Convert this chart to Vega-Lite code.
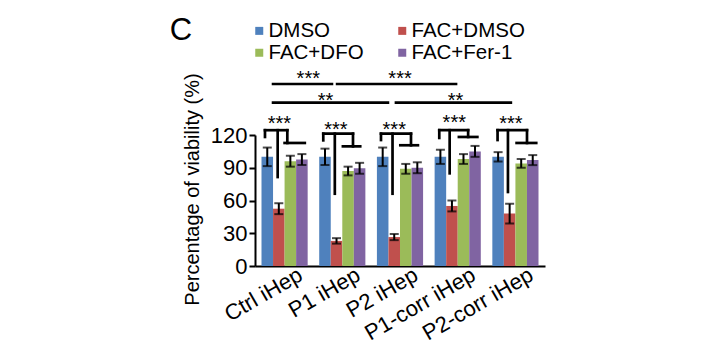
{
  "$schema": "https://vega.github.io/schema/vega-lite/v6.json",
  "width": 290,
  "height": 131,
  "autosize": {"type": "none"},
  "padding": {"left": 255, "top": 135, "right": 181, "bottom": 97},
  "background": "white",
  "config": {"view": {"stroke": null}, "font": "Liberation Sans"},
  "datasets": {
    "bars": [
      {"group": "Ctrl iHep", "series": "DMSO", "value": 100, "lo": 91.5, "hi": 108.5},
      {"group": "Ctrl iHep", "series": "FAC+DMSO", "value": 52.5, "lo": 47.5, "hi": 57.5},
      {"group": "Ctrl iHep", "series": "FAC+DFO", "value": 96, "lo": 91, "hi": 101},
      {"group": "Ctrl iHep", "series": "FAC+Fer-1", "value": 97.5, "lo": 92.5, "hi": 102.5},
      {"group": "P1 iHep", "series": "DMSO", "value": 100, "lo": 92.5, "hi": 107.5},
      {"group": "P1 iHep", "series": "FAC+DMSO", "value": 23, "lo": 20.5, "hi": 25.5},
      {"group": "P1 iHep", "series": "FAC+DFO", "value": 87, "lo": 83, "hi": 91},
      {"group": "P1 iHep", "series": "FAC+Fer-1", "value": 89.5, "lo": 84.5, "hi": 94.5},
      {"group": "P2 iHep", "series": "DMSO", "value": 100, "lo": 91.5, "hi": 108.5},
      {"group": "P2 iHep", "series": "FAC+DMSO", "value": 26.5, "lo": 23.7, "hi": 29.3},
      {"group": "P2 iHep", "series": "FAC+DFO", "value": 89, "lo": 84.5, "hi": 93.5},
      {"group": "P2 iHep", "series": "FAC+Fer-1", "value": 90, "lo": 85, "hi": 95},
      {"group": "P1-corr iHep", "series": "DMSO", "value": 100, "lo": 93.5, "hi": 106.5},
      {"group": "P1-corr iHep", "series": "FAC+DMSO", "value": 55, "lo": 50, "hi": 60},
      {"group": "P1-corr iHep", "series": "FAC+DFO", "value": 98, "lo": 93.5, "hi": 102.5},
      {"group": "P1-corr iHep", "series": "FAC+Fer-1", "value": 105, "lo": 100, "hi": 110},
      {"group": "P2-corr iHep", "series": "DMSO", "value": 100, "lo": 95.7, "hi": 104.3},
      {"group": "P2-corr iHep", "series": "FAC+DMSO", "value": 48, "lo": 39, "hi": 57},
      {"group": "P2-corr iHep", "series": "FAC+DFO", "value": 94, "lo": 90, "hi": 98},
      {"group": "P2-corr iHep", "series": "FAC+Fer-1", "value": 97, "lo": 92.4, "hi": 101.6}
    ],
    "segs": [
      {"pos": -0.34, "pos2": 0.047, "v": 124.4, "v2": 124.4},
      {"pos": -0.34, "pos2": -0.34, "v": 124.4, "v2": 118.2},
      {"pos": -0.12, "pos2": -0.12, "v": 124.4, "v2": 81.5},
      {"pos": 0.047, "pos2": 0.047, "v": 124.4, "v2": 112.7},
      {"pos": 0.0, "pos2": 0.35, "v": 112.7, "v2": 112.7},
      {"pos": 0.67, "pos2": 1.185, "v": 121.2, "v2": 121.2},
      {"pos": 0.67, "pos2": 0.67, "v": 121.2, "v2": 115.1},
      {"pos": 0.87, "pos2": 0.87, "v": 121.2, "v2": 66.2},
      {"pos": 1.185, "pos2": 1.185, "v": 121.2, "v2": 109.6},
      {"pos": 1.01, "pos2": 1.31, "v": 109.6, "v2": 109.6},
      {"pos": 1.67, "pos2": 2.19, "v": 121.2, "v2": 121.2},
      {"pos": 1.67, "pos2": 1.67, "v": 121.2, "v2": 115.4},
      {"pos": 1.87, "pos2": 1.87, "v": 121.2, "v2": 66.2},
      {"pos": 2.19, "pos2": 2.19, "v": 121.2, "v2": 110.6},
      {"pos": 2.005, "pos2": 2.31, "v": 110.6, "v2": 110.6},
      {"pos": 2.68, "pos2": 3.18, "v": 124.4, "v2": 124.4},
      {"pos": 2.68, "pos2": 2.68, "v": 124.4, "v2": 117.3},
      {"pos": 2.86, "pos2": 2.86, "v": 124.4, "v2": 84.9},
      {"pos": 3.18, "pos2": 3.18, "v": 124.4, "v2": 118.2},
      {"pos": 3.02, "pos2": 3.34, "v": 118.2, "v2": 118.2},
      {"pos": 3.69, "pos2": 4.2, "v": 124.4, "v2": 124.4},
      {"pos": 3.69, "pos2": 3.69, "v": 124.4, "v2": 115.4},
      {"pos": 3.87, "pos2": 3.87, "v": 124.4, "v2": 67.8},
      {"pos": 4.2, "pos2": 4.2, "v": 124.4, "v2": 112.7},
      {"pos": 4.02, "pos2": 4.36, "v": 112.7, "v2": 112.7},
      {"pos": -0.2, "pos2": 0.82, "v": 166.7, "v2": 166.7},
      {"pos": 0.91, "pos2": 2.97, "v": 166.7, "v2": 166.7},
      {"pos": -0.2, "pos2": 1.79, "v": 149.6, "v2": 149.6},
      {"pos": 1.93, "pos2": 3.92, "v": 149.6, "v2": 149.6}
    ],
    "stars": [
      {"pos": -0.09, "v": 124.8, "label": "***"},
      {"pos": 0.89, "v": 119.4, "label": "***"},
      {"pos": 1.9, "v": 118.8, "label": "***"},
      {"pos": 2.94, "v": 125.5, "label": "***"},
      {"pos": 3.92, "v": 124.8, "label": "***"},
      {"pos": 0.41, "v": 165.5, "label": "***"},
      {"pos": 2.0, "v": 165.5, "label": "***"},
      {"pos": 0.71, "v": 145.6, "label": "**"},
      {"pos": 2.96, "v": 145.6, "label": "**"}
    ],
    "panel": [
      {"pos": -1.99, "v": 207.2, "label": "C"}
    ]
  },
  "layer": [
    {
      "data": {"name": "bars"},
      "encoding": {
        "x": {
          "field": "group", "type": "nominal", "sort": null,
          "scale": {"paddingInner": 0.2, "paddingOuter": 0.1126},
          "axis": {
            "title": null, "labelAngle": -30, "labelAlign": "right", "labelBaseline": "top",
            "labelFontSize": 22, "labelColor": "black", "labelPadding": -2, "labelOffset": 11,
            "ticks": false, "domainColor": "black", "domainWidth": 2
          }
        },
        "xOffset": {
          "field": "series", "type": "nominal", "sort": ["DMSO", "FAC+DMSO", "FAC+DFO", "FAC+Fer-1"],
          "scale": {"paddingInner": 0, "paddingOuter": 0}
        }
      },
      "layer": [
        {
          "mark": {"type": "bar"},
          "encoding": {
            "y": {
              "field": "value", "type": "quantitative",
              "scale": {"domain": [0, 120], "nice": false},
              "axis": {"values": [0, 30, 60, 90, 120], "title": "Percentage of viability (%)", "titleY": 54, "grid": false, "labelOverlap": false, "labelFontSize": 22, "labelColor": "black", "labelPadding": 2, "titleFontSize": 20, "titleFontWeight": "normal", "titleColor": "black", "titlePadding": 8, "domainColor": "black", "domainWidth": 2, "tickColor": "black", "tickWidth": 2, "tickSize": 6}
            },
            "color": {
              "field": "series", "type": "nominal",
              "sort": ["DMSO", "FAC+DMSO", "FAC+DFO", "FAC+Fer-1"],
              "scale": {"domain": ["DMSO", "FAC+DMSO", "FAC+DFO", "FAC+Fer-1"], "range": ["#4F81BD", "#C0504D", "#9BBB59", "#8064A2"]},
              "legend": {
                "orient": "none", "legendX": -6, "legendY": -114.5, "columns": 2, "direction": "horizontal",
                "title": null, "symbolType": "square", "symbolSize": 64, "symbolStrokeWidth": 0,
                "labelFontSize": 20.5, "labelColor": "black", "labelOffset": -1,
                "columnPadding": 28, "rowPadding": 1, "padding": 0
              }
            }
          }
        },
        {
          "mark": {"type": "rule", "color": "black", "strokeWidth": 2},
          "encoding": {
            "y": {"field": "lo", "type": "quantitative", "scale": {"domain": [0, 120], "nice": false}, "axis": null},
            "y2": {"field": "hi"}
          }
        },
        {
          "mark": {"type": "tick", "color": "black", "thickness": 2, "size": 9},
          "encoding": {"y": {"field": "lo", "type": "quantitative", "scale": {"domain": [0, 120], "nice": false}, "axis": null}}
        },
        {
          "mark": {"type": "tick", "color": "black", "thickness": 2, "size": 9},
          "encoding": {"y": {"field": "hi", "type": "quantitative", "scale": {"domain": [0, 120], "nice": false}, "axis": null}}
        }
      ],
      "resolve": {"axis": {"y": "independent"}}
    },
    {
      "data": {"name": "segs"},
      "mark": {"type": "rule", "color": "black", "strokeWidth": 2.7, "strokeCap": "square"},
      "encoding": {
        "x": {"field": "pos", "type": "quantitative", "scale": {"domain": [-0.513, 4.512], "nice": false, "zero": false}, "axis": null},
        "x2": {"field": "pos2"},
        "y": {"field": "v", "type": "quantitative", "scale": {"domain": [0, 120], "nice": false}, "axis": null},
        "y2": {"field": "v2"}
      }
    },
    {
      "data": {"name": "stars"},
      "mark": {"type": "text", "fontSize": 20, "align": "center", "baseline": "alphabetic", "color": "black"},
      "encoding": {
        "x": {"field": "pos", "type": "quantitative", "scale": {"domain": [-0.513, 4.512], "nice": false, "zero": false}, "axis": null},
        "y": {"field": "v", "type": "quantitative", "scale": {"domain": [0, 120], "nice": false}, "axis": null},
        "text": {"field": "label"}
      }
    },
    {
      "data": {"name": "panel"},
      "mark": {"type": "text", "fontSize": 31, "align": "left", "baseline": "alphabetic", "color": "black"},
      "encoding": {
        "x": {"field": "pos", "type": "quantitative", "scale": {"domain": [-0.513, 4.512], "nice": false, "zero": false}, "axis": null},
        "y": {"field": "v", "type": "quantitative", "scale": {"domain": [0, 120], "nice": false}, "axis": null},
        "text": {"field": "label"}
      }
    }
  ],
  "resolve": {"scale": {"x": "independent"}, "axis": {"x": "independent", "y": "independent"}}
}
